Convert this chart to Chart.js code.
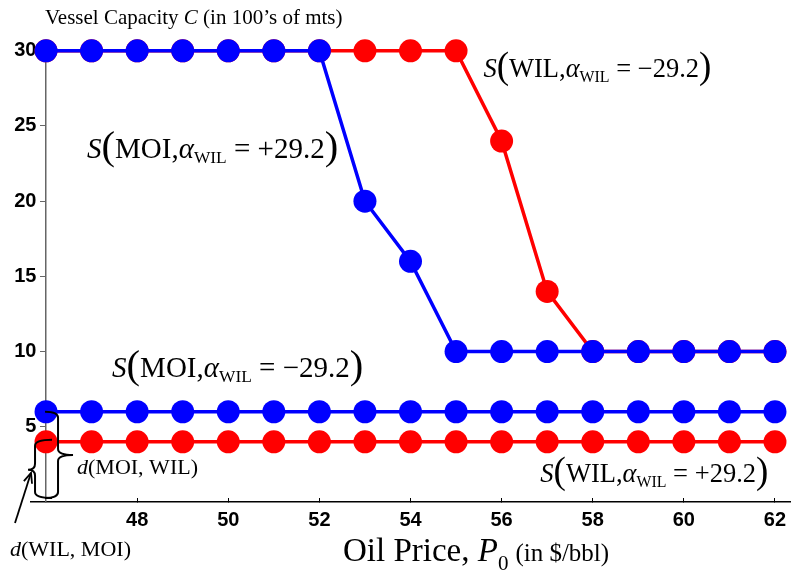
<!DOCTYPE html>
<html lang="en">
<head>
<meta charset="UTF-8">
<title>Vessel Capacity vs Oil Price</title>
<script src="https://cdn.jsdelivr.net/npm/chart.js"></script>
<style>
  html, body { margin: 0; padding: 0; background: #fff; }
</style>
</head>
<body>
<canvas id="grafico" width="791" height="580"></canvas>
<script>
// oil price P0 ($/bbl)
const precos = [46, 47, 48, 49, 50, 51, 52, 53, 54, 55, 56, 57, 58, 59, 60, 61, 62];

// vessel capacity C (100's of mts)
const moiMais  = [30, 30, 30, 30, 30, 30, 30, 20, 16, 10, 10, 10, 10, 10, 10, 10, 10];
const wilMenos = [30, 30, 30, 30, 30, 30, 30, 30, 30, 30, 24, 14, 10, 10, 10, 10, 10];
const moiMenos = [6, 6, 6, 6, 6, 6, 6, 6, 6, 6, 6, 6, 6, 6, 6, 6, 6];
const wilMais  = [4, 4, 4, 4, 4, 4, 4, 4, 4, 4, 4, 4, 4, 4, 4, 4, 4];

const ticksX = [48, 50, 52, 54, 56, 58, 60, 62];
const ticksY = [5, 10, 15, 20, 25, 30];

const AZUL = '#0000ff';
const VERMELHO = '#ff0000';
const SERIF = '"Liberation Serif", "Times New Roman", serif';
const SANS = '"Liberation Sans", Arial, sans-serif';

function pontos(serie) {
    return precos.map((p, i) => ({ x: p, y: serie[i] }));
}

function serie(nome, valores, cor) {
    return {
        label: nome,
        data: pontos(valores),
        borderColor: cor,
        backgroundColor: cor,
        borderWidth: 3.5,
        pointRadius: 11.5,
        pointBorderWidth: 0,
        pointBackgroundColor: cor,
        clip: false
    };
}

// writes a run of text pieces with different fonts one after another
function escreve(ctx, x, y, partes) {
    partes.forEach(p => {
        ctx.font = p.f;
        ctx.fillText(p.t, x, y + (p.dy || 0));
        x += ctx.measureText(p.t).width + (p.gap || 0);
    });
}

function rotuloS(ctx, x, y, nome, valor, s) {
    escreve(ctx, x, y, [
        { t: 'S', f: `italic ${s}px ${SERIF}` },
        { t: '(', f: `${s * 1.4}px ${SERIF}`, dy: 1 },
        { t: nome + ',', f: `${s}px ${SERIF}` },
        { t: 'α', f: `italic ${s}px ${SERIF}` },
        { t: 'WIL', f: `${s * 0.6}px ${SERIF}`, dy: 5 },
        { t: ' = ' + valor, f: `${s}px ${SERIF}` },
        { t: ')', f: `${s * 1.4}px ${SERIF}`, dy: 1 }
    ]);
}

// curly brace: x0 = ends of the hooks, xv = vertical stroke, xp = tip
function chave(ctx, x0, xv, xp, yTopo, yMeio, yBase, r) {
    ctx.beginPath();
    ctx.moveTo(x0, yTopo);
    ctx.quadraticCurveTo(xv, yTopo, xv, yTopo + r);
    ctx.lineTo(xv, yMeio - r);
    ctx.quadraticCurveTo(xv, yMeio, xp, yMeio);
    ctx.quadraticCurveTo(xv, yMeio, xv, yMeio + r);
    ctx.lineTo(xv, yBase - r);
    ctx.quadraticCurveTo(xv, yBase, x0, yBase);
    ctx.stroke();
}

const anotacoes = {
    id: 'anotacoes',
    afterDraw(chart) {
        const ctx = chart.ctx;
        const sx = chart.scales.x;
        const sy = chart.scales.y;
        const px = v => sx.getPixelForValue(v);
        const py = v => sy.getPixelForValue(v);

        ctx.save();
        ctx.fillStyle = '#000';
        ctx.textAlign = 'left';
        ctx.textBaseline = 'alphabetic';

        // axis titles
        escreve(ctx, px(46) - 1, chart.chartArea.top - 17, [
            { t: 'Vessel Capacity ', f: `21px ${SERIF}` },
            { t: 'C', f: `italic 21px ${SERIF}` },
            { t: ' (in 100\u2019s of mts)', f: `21px ${SERIF}` }
        ]);
        escreve(ctx, 343, 561, [
            { t: 'Oil Price, ', f: `33px ${SERIF}` },
            { t: 'P', f: `italic 33px ${SERIF}` },
            { t: '0', f: `21px ${SERIF}`, dy: 9, gap: 7 },
            { t: '(in $/bbl)', f: `25px ${SERIF}` }
        ]);

        // curve labels
        rotuloS(ctx, px(55.6), py(28.26), 'WIL', '\u221229.2', 26.5);
        rotuloS(ctx, px(46.9), py(22.87), 'MOI', '+29.2', 29);
        rotuloS(ctx, px(47.45), py(8.31), 'MOI', '\u221229.2', 29);
        rotuloS(ctx, px(56.85), py(1.33), 'WIL', '+29.2', 26.5);

        escreve(ctx, px(46.68), py(1.86), [
            { t: 'd', f: `italic 22px ${SERIF}` },
            { t: '(MOI, WIL)', f: `22px ${SERIF}` }
        ]);
        escreve(ctx, 10, 556, [
            { t: 'd', f: `italic 22px ${SERIF}` },
            { t: '(WIL, MOI)', f: `22px ${SERIF}` }
        ]);

        // braces
        ctx.strokeStyle = '#000';
        ctx.lineWidth = 2;
        const b = py(0) - 4;
        chave(ctx, px(46) - 1, px(46) + 12, px(46) + 27, py(6), (py(6) + b) / 2, b, 6);
        chave(ctx, px(46) + 6, px(46) - 11, px(46) - 18, py(4) - 2, py(4) + 28, b, 6);

        // arrow to the lower brace
        const ax = 15, ay = 523, bx = px(46) - 15, by = py(4) + 31;
        ctx.lineWidth = 1.8;
        ctx.beginPath();
        ctx.moveTo(ax, ay);
        ctx.lineTo(bx, by);
        ctx.stroke();
        const ang = Math.atan2(by - ay, bx - ax);
        ctx.beginPath();
        ctx.moveTo(bx - 11 * Math.cos(ang - 0.4), by - 11 * Math.sin(ang - 0.4));
        ctx.lineTo(bx, by);
        ctx.lineTo(bx - 11 * Math.cos(ang + 0.4), by - 11 * Math.sin(ang + 0.4));
        ctx.stroke();
        ctx.restore();
    }
};

new Chart(document.getElementById('grafico'), {
    type: 'line',
    data: {
        datasets: [
            serie('S(MOI, +29.2)', moiMais, AZUL),
            serie('S(WIL, -29.2)', wilMenos, VERMELHO),
            serie('S(MOI, -29.2)', moiMenos, AZUL),
            serie('S(WIL, +29.2)', wilMais, VERMELHO)
        ]
    },
    options: {
        responsive: false,
        animation: false,
        layout: { autoPadding: false, padding: { left: 31, right: 1, top: 41, bottom: 48 } },
        plugins: {
            legend: { display: false },
            tooltip: { enabled: false }
        },
        scales: {
            x: {
                type: 'linear',
                min: 45.67,
                max: 62.33,
                afterBuildTicks: s => { s.ticks = ticksX.map(v => ({ value: v })); },
                afterFit: s => {
                    s.height = 30;
                    s.paddingLeft = 0;
                    s.paddingRight = 0;
                },
                grid: { drawOnChartArea: false, tickLength: -4, color: '#000', lineWidth: 1 },
                border: { color: '#000', width: 1.5 },
                ticks: {
                    color: '#000',
                    padding: 10,
                    font: { family: SANS, weight: 'bold', size: 20 }
                }
            },
            y: {
                type: 'linear',
                min: 0,
                max: 30.65,
                position: { x: 46 },
                afterBuildTicks: s => { s.ticks = ticksY.map(v => ({ value: v })); },
                afterFit: s => {
                    s.paddingTop = 0;
                    s.paddingBottom = 0;
                },
                grid: { drawOnChartArea: false, tickLength: 5, color: '#666', lineWidth: 1 },
                border: { color: '#666', width: 1.5 },
                ticks: {
                    color: '#000',
                    callback: v => v + ' \u2009',
                    font: { family: SANS, weight: 'bold', size: 20 }
                }
            }
        }
    },
    plugins: [anotacoes]
});
</script>
</body>
</html>
